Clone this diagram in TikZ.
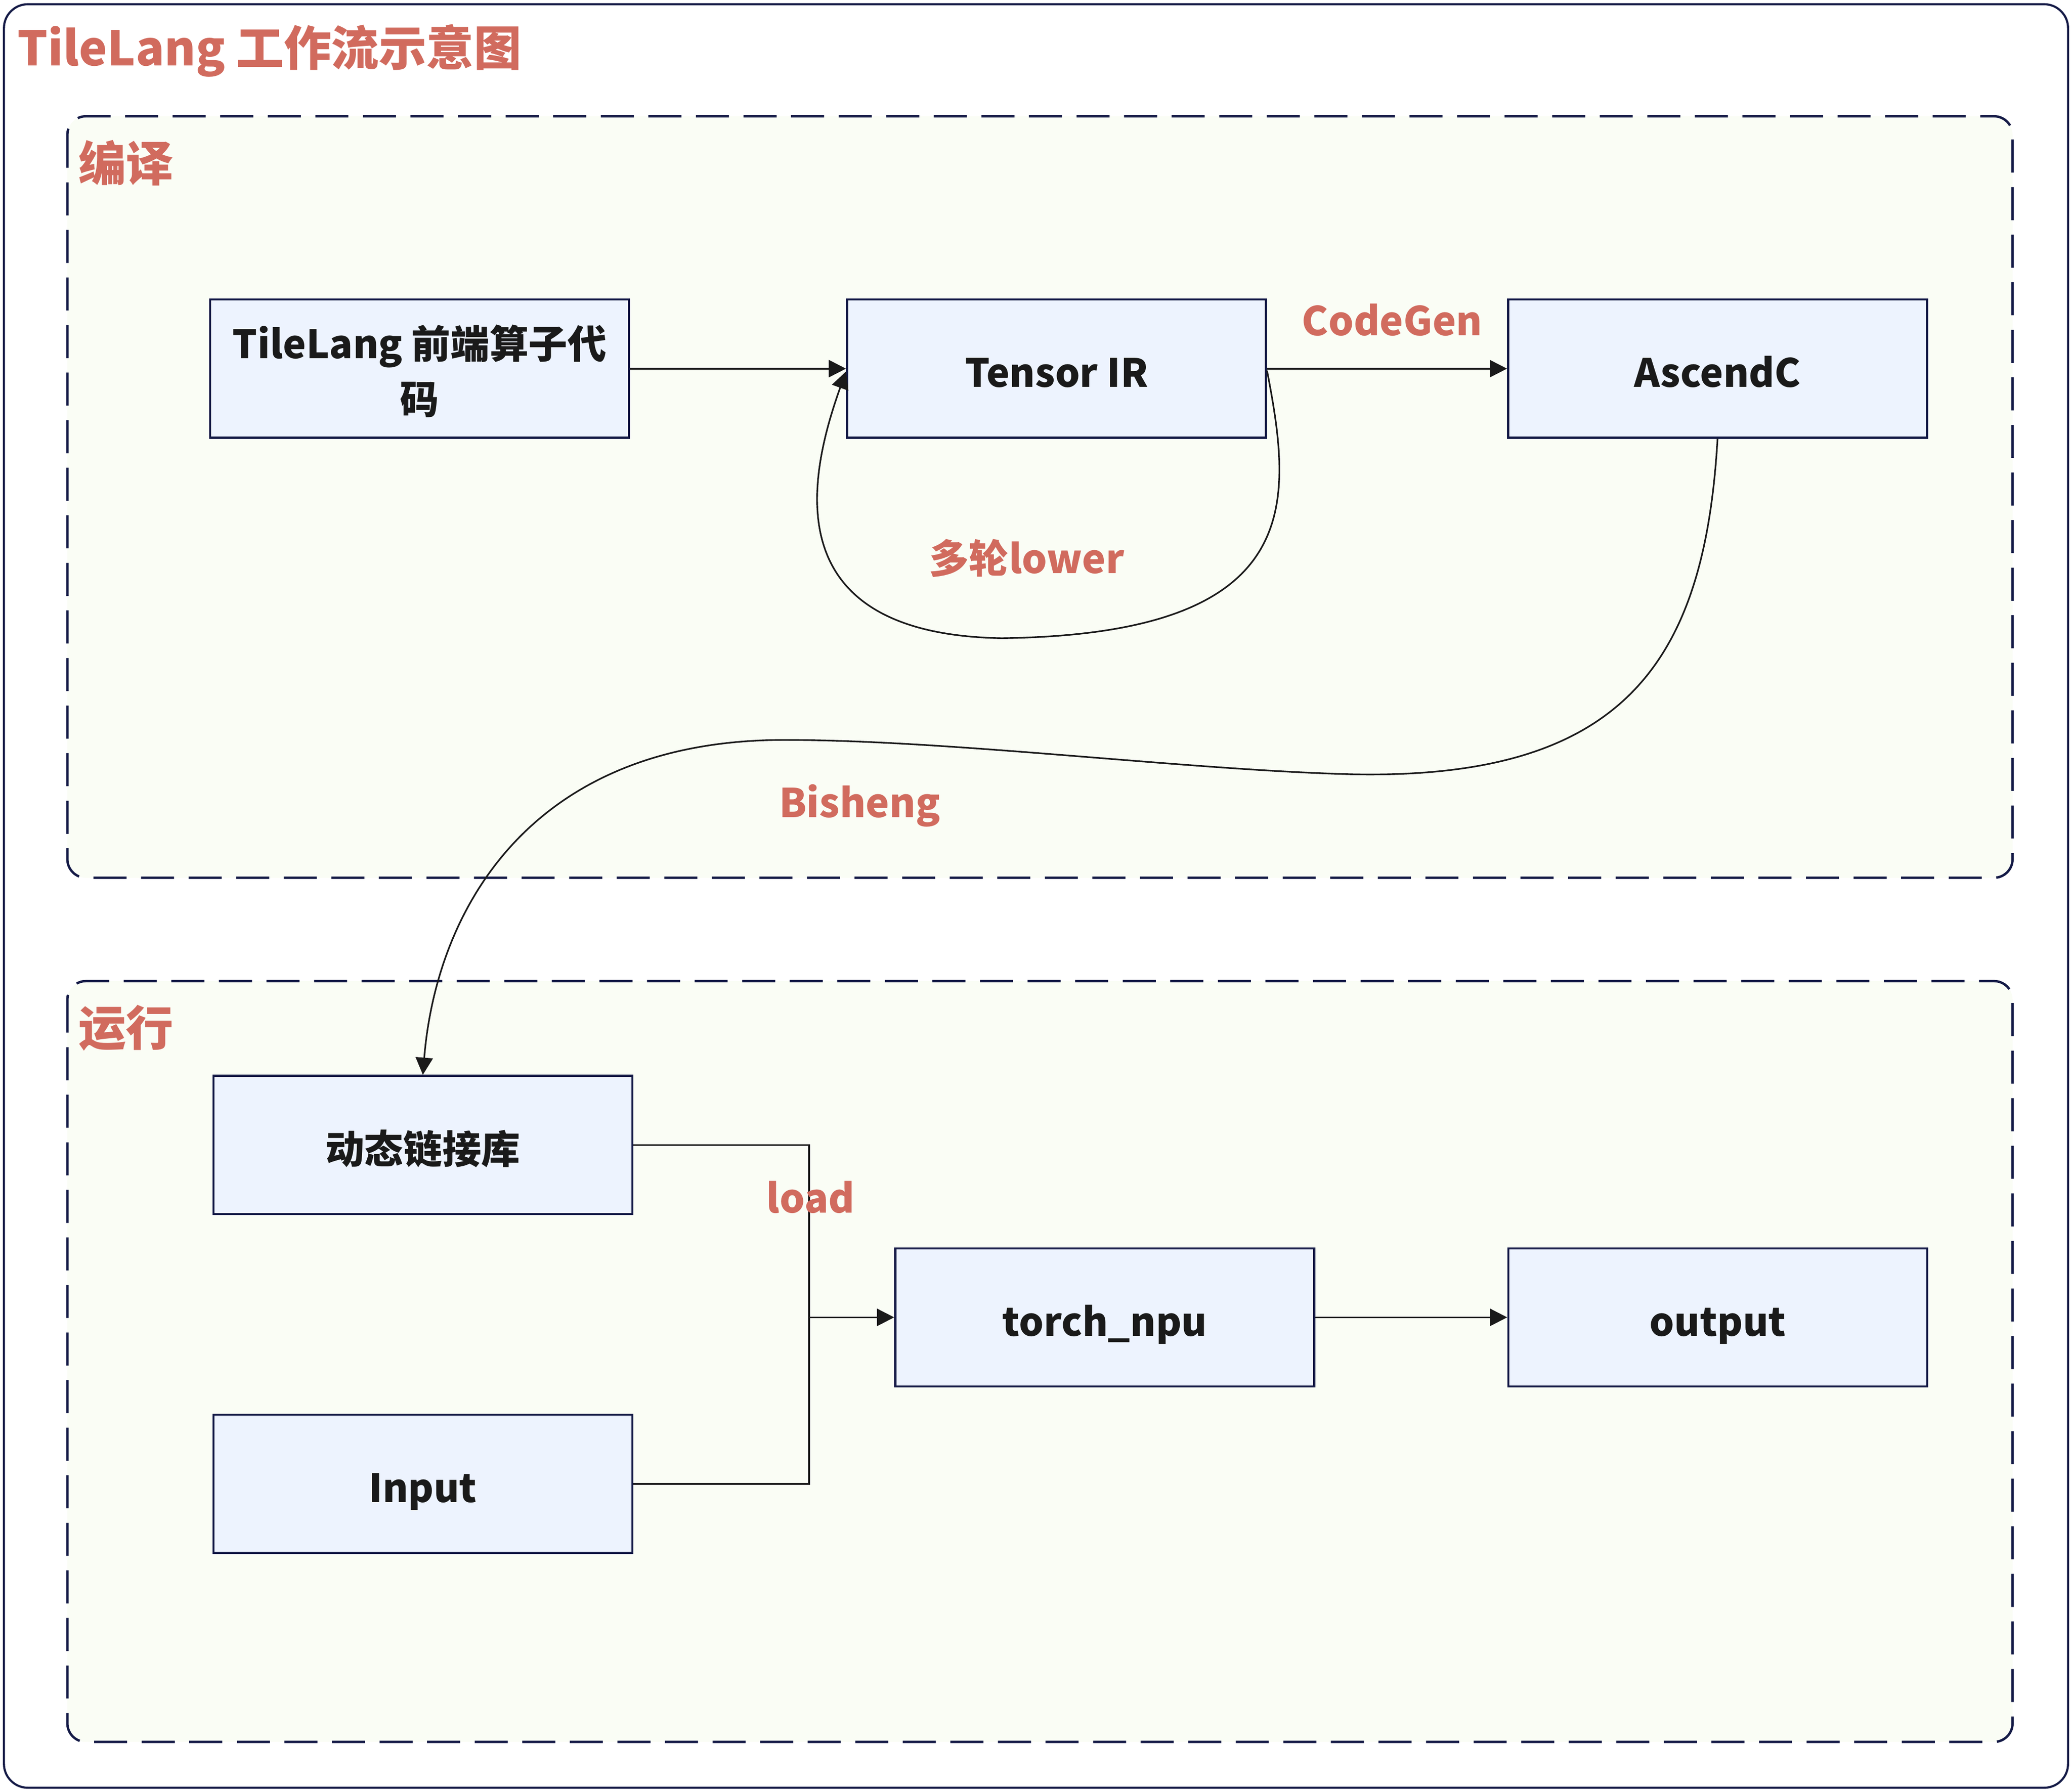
\documentclass[tikz,border=0pt]{standalone}
\usepackage{fontspec}
\setmainfont{Noto Sans CJK SC}
\usetikzlibrary{arrows.meta}
\definecolor{navy}{HTML}{141A46}
\definecolor{coral}{HTML}{D16B5E}
\definecolor{boxfill}{HTML}{EDF3FE}
\definecolor{secfill}{HTML}{FAFDF5}
\definecolor{ink}{HTML}{1A1A1A}
\begin{document}
\begin{tikzpicture}[x=0.6917pt, y=-0.6917pt,
  stepbox/.style={draw=navy, line width=1.1pt, fill=boxfill, minimum width=219.3pt, minimum height=72.3pt, inner sep=0pt, align=center, font=\fontsize{20.4}{29}\selectfont\bfseries, text=ink},
  oneline/.style={text height=21.4pt, text depth=2pt},
  elabel/.style={text=coral, font=\fontsize{20.8}{25}\selectfont\bfseries, inner sep=0pt, anchor=base},
  seclabel/.style={text=coral, font=\fontsize{24.9}{30}\selectfont\bfseries, inner sep=0pt, anchor=base west},
  section/.style={draw=navy, line width=1.25pt, fill=secfill, rounded corners=9.7pt, dash pattern=on 17.3pt off 7.6pt},
  conn/.style={draw=ink, line width=0.85pt},
  arr/.style={conn, -{Triangle[length=9pt,width=9pt]}}
]
\useasboundingbox (0,0) rectangle (1568,1355.46);
\fill[white] (0,0) rectangle (1568,1355.46);
% outer frame
\draw[navy, line width=1.1pt, fill=white, rounded corners=12.5pt] (3,3.2) rectangle (1565,1353);
\node[seclabel] (title) at (13,49.6) {TileLang 工作流示意图};
% sections
\path[section] (51,88) rectangle (1523,664.3);
\path[section] (51,742.5) rectangle (1523,1318.3);
\node[seclabel] (sec1) at (59,137) {编译};
\node[seclabel] (sec2) at (59,791.5) {运行};
% boxes
\node[stepbox] (tl)  at (317.5,279) {\rule{0pt}{20pt}TileLang 前端算子代\\码};
\node[stepbox, oneline] (tir) at (799.5,279) {Tensor IR};
\node[stepbox, oneline] (asc) at (1299.75,279) {AscendC};
\node[stepbox, oneline] (dyn) at (320,866.5) {动态链接库};
\node[stepbox, oneline] (inp) at (320,1123) {Input};
\node[stepbox, oneline] (tor) at (836,997) {torch\_npu};
\node[stepbox, oneline] (out) at (1299.9,997) {output};
% connectors
\draw[arr] (tl.east) -- (tir.west);
\draw[arr] (tir.east) -- (asc.west);
\draw[arr] ([yshift=-1pt]tir.east) .. controls (978,380) and (990,480) .. (758,483)
   .. controls (585,480) and (612,360) .. ([yshift=-1.5pt]tir.west);
\draw[arr] (asc.south) .. controls (1290,500) and (1230,590) .. (1024,586)
   .. controls (900,583) and (720,560) .. (593.5,560)
   .. controls (400,560) and (330,690) .. (dyn.north);
\coordinate (j) at (612.3,997);
\draw[conn] (dyn.east) -| (j);
\draw[conn] (inp.east) -| (j);
\draw[arr] (j) -- (tor.west);
\draw[arr] (tor.east) -- (out.west);
% edge labels
\node[elabel] (lcg) at (1053.5,254) {CodeGen};
\node[elabel] (llo) at (777,434) {多轮lower};
\node[elabel] (lbs) at (650.5,618.5) {Bisheng};
\node[elabel] (lld) at (613.4,918) {load};
\end{tikzpicture}
\end{document}
